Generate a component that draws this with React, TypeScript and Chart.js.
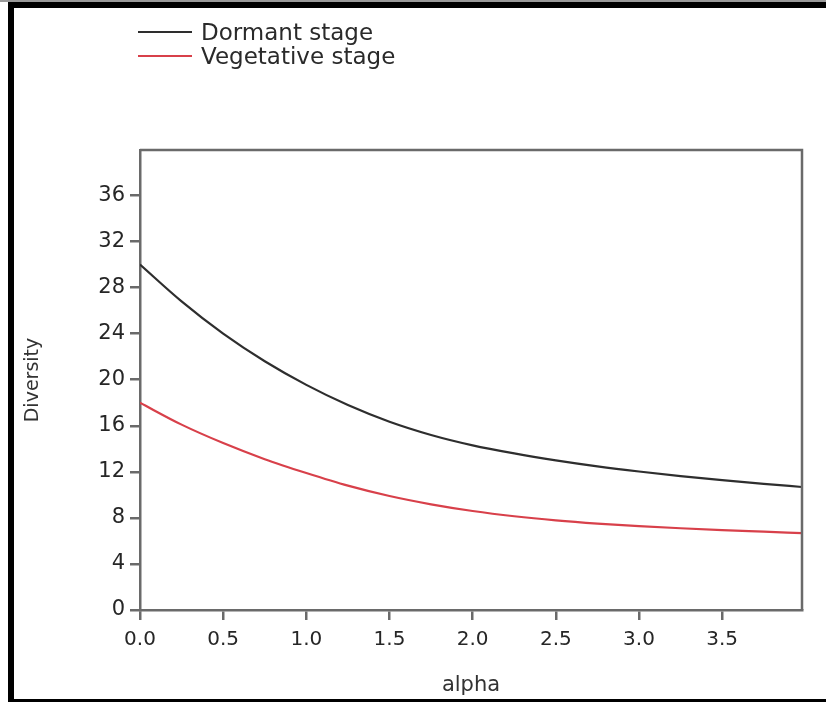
import React, { useEffect, useRef } from "react";
import { Chart, registerables } from "chart.js";

Chart.register(...registerables);

const alphaValues = [0, 0.25, 0.5, 0.75, 1.0, 1.25, 1.5, 1.75, 2.0, 2.25, 2.5, 2.75, 3.0, 3.25, 3.5, 3.75, 3.98];
const dormantValues = [30.0, 26.8, 24.0, 21.6, 19.55, 17.8, 16.35, 15.2, 14.3, 13.6, 13.0, 12.48, 12.03, 11.63, 11.28, 10.96, 10.68];
const vegetativeValues = [18.0, 16.1, 14.5, 13.1, 11.9, 10.8, 9.9, 9.18, 8.6, 8.14, 7.78, 7.5, 7.28, 7.1, 6.94, 6.8, 6.67];
const seriesLabels = ["Dormant stage", "Vegetative stage"];
const seriesColors = ["#2e2e2e", "#d8404a"];
const yTickValues = [0, 4, 8, 12, 16, 20, 24, 28, 32, 36];

const FONT = "'DejaVu Sans', 'Open Sans', sans-serif";
const AXIS = "#6a6a6a";

const boxPlugin = {
  id: "chartBox",
  afterDraw(chart: any) {
    const { ctx, chartArea } = chart;
    ctx.save();
    ctx.strokeStyle = AXIS;
    ctx.lineWidth = 2.5;
    ctx.beginPath();
    ctx.moveTo(chartArea.left, chartArea.top);
    ctx.lineTo(chartArea.right, chartArea.top);
    ctx.lineTo(chartArea.right, chartArea.bottom);
    ctx.stroke();
    ctx.restore();
  },
};

export default function App() {
  const canvasRef = useRef<HTMLCanvasElement | null>(null);

  useEffect(() => {
    const canvas = canvasRef.current;
    if (!canvas) return;
    const series = [dormantValues, vegetativeValues];
    const chart = new Chart(canvas, {
      type: "line",
      data: {
        datasets: series.map((vals, i) => ({
          label: seriesLabels[i],
          data: alphaValues.map((a, j) => ({ x: a, y: vals[j] })),
          borderColor: seriesColors[i],
          backgroundColor: seriesColors[i],
          borderWidth: 2.2,
          pointRadius: 0,
          cubicInterpolationMode: "monotone" as const,
          fill: false,
        })),
      },
      options: {
        animation: false,
        responsive: false,
        maintainAspectRatio: false,
        layout: { padding: { left: 22, top: 150, right: 24, bottom: 4 } },
        plugins: {
          legend: { display: false },
          tooltip: { enabled: false },
        },
        scales: {
          x: {
            type: "linear",
            min: 0,
            max: 3.98,
            afterFit: (s: any) => {
              s.height = 88;
            },
            ticks: {
              stepSize: 0.5,
              includeBounds: false,
              color: "#262626",
              font: { family: FONT, size: 20 },
              padding: 8,
              callback: (v: any) => Number(v).toFixed(1),
            },
            grid: {
              drawOnChartArea: false,
              drawTicks: true,
              tickLength: 10,
              color: AXIS,
              lineWidth: 2.5,
            },
            border: { display: true, color: AXIS, width: 2.5 },
            title: {
              display: true,
              text: "alpha",
              color: "#333",
              font: { family: FONT, size: 21 },
              padding: 0,
            },
          },
          y: {
            type: "linear",
            min: 0,
            max: 39.95,
            afterFit: (s: any) => {
              s.width = 118;
            },
            afterBuildTicks: (s: any) => {
              s.ticks = yTickValues.map((v) => ({ value: v }));
            },
            ticks: {
              color: "#262626",
              font: { family: FONT, size: 21 },
              padding: 5,
            },
            grid: {
              drawOnChartArea: false,
              drawTicks: true,
              tickLength: 10,
              color: AXIS,
              lineWidth: 2.5,
            },
            border: { display: true, color: AXIS, width: 2.5 },
            title: {
              display: true,
              text: "Diversity",
              color: "#333",
              font: { family: FONT, size: 19 },
              padding: 0,
            },
          },
        },
      },
      plugins: [boxPlugin],
    });
    return () => chart.destroy();
  }, []);

  return (
    <div style={{ position: "fixed", left: 0, top: 0, width: 826, height: 702, background: "#fff", overflow: "hidden" }}>
      <div style={{ position: "absolute", left: 0, top: 0, width: 826, height: 2, background: "#9a9a9a" }} />
      <div style={{ position: "absolute", left: 8, top: 2, width: 818, height: 6, background: "#000" }} />
      <div style={{ position: "absolute", left: 8, top: 2, width: 6, height: 700, background: "#000" }} />
      <div style={{ position: "absolute", left: 8, top: 699, width: 818, height: 3, background: "#000" }} />
      <canvas ref={canvasRef} width={826} height={702} style={{ position: "absolute", left: 0, top: 0, width: 826, height: 702 }} />
      <div style={{ position: "absolute", left: 138, top: 20, fontFamily: FONT, fontSize: 23, color: "#2a2a2a", lineHeight: "24px" }}>
        {seriesLabels.map((lab, i) => (
          <div key={lab} style={{ display: "flex", alignItems: "center", height: 24 }}>
            <span style={{ display: "inline-block", width: 54, height: 2, background: seriesColors[i], marginRight: 9 }} />
            <span>{lab}</span>
          </div>
        ))}
      </div>
    </div>
  );
}
